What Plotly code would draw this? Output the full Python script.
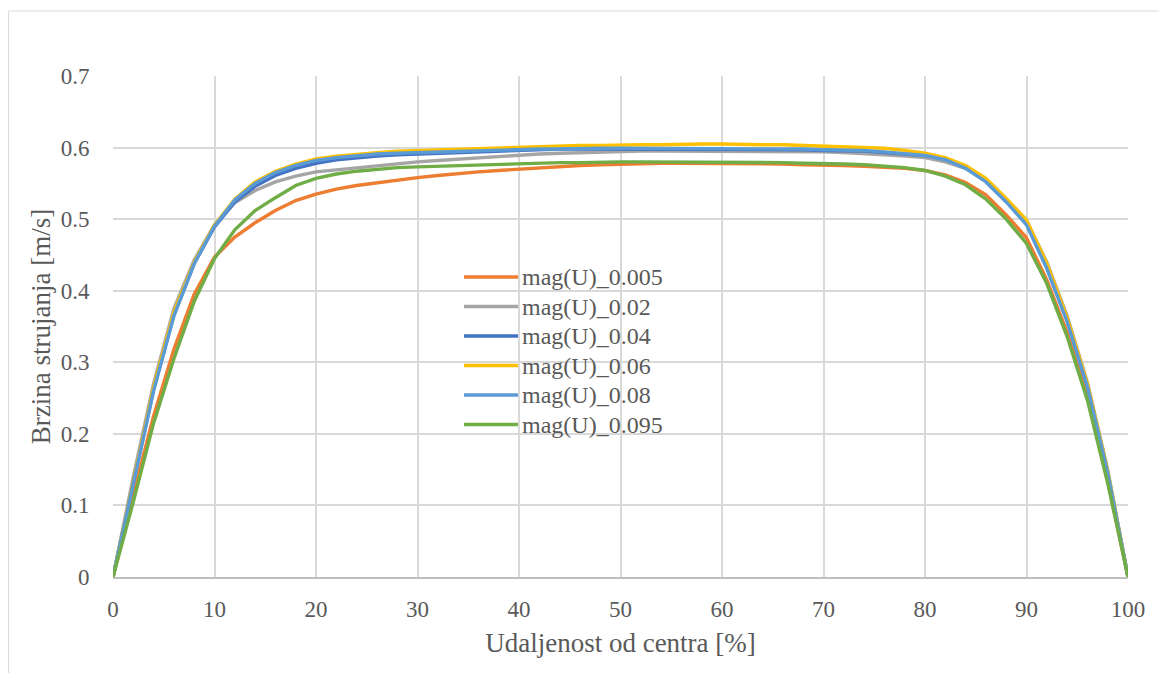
import plotly.graph_objects as go

x_pct = list(range(0, 101, 2))

series_names = ["mag(U)_0.005", "mag(U)_0.02", "mag(U)_0.04", "mag(U)_0.06", "mag(U)_0.08", "mag(U)_0.095"]
series_colors = ["#ED7D31", "#A5A5A5", "#4472C4", "#FFC000", "#5B9BD5", "#70AD47"]

u_0005 = [0, 0.115, 0.225, 0.318, 0.395, 0.447, 0.475, 0.495, 0.512, 0.526, 0.535,
          0.542, 0.547, 0.551, 0.555, 0.558, 0.561, 0.564, 0.566, 0.568, 0.570,
          0.572, 0.574, 0.575, 0.576, 0.577, 0.578, 0.578, 0.578, 0.578, 0.578,
          0.578, 0.577, 0.577, 0.576, 0.576, 0.575, 0.574, 0.573, 0.571, 0.568,
          0.562, 0.551, 0.534, 0.506, 0.474, 0.415, 0.342, 0.252, 0.135, 0]
u_002 = [0, 0.140, 0.270, 0.375, 0.443, 0.492, 0.523, 0.540, 0.552, 0.560, 0.566,
         0.569, 0.572, 0.575, 0.578, 0.580, 0.582, 0.584, 0.586, 0.588, 0.590,
         0.591, 0.592, 0.593, 0.594, 0.594, 0.595, 0.595, 0.595, 0.595, 0.595,
         0.595, 0.595, 0.594, 0.594, 0.594, 0.593, 0.592, 0.590, 0.588, 0.586,
         0.580, 0.571, 0.554, 0.528, 0.498, 0.440, 0.365, 0.272, 0.150, 0]
u_004 = [0, 0.132, 0.262, 0.366, 0.438, 0.489, 0.524, 0.546, 0.561, 0.571, 0.578,
         0.583, 0.586, 0.588, 0.590, 0.591, 0.593, 0.594, 0.595, 0.596, 0.597,
         0.597, 0.598, 0.598, 0.598, 0.598, 0.598, 0.598, 0.598, 0.598, 0.598,
         0.598, 0.597, 0.597, 0.597, 0.596, 0.596, 0.595, 0.593, 0.591, 0.589,
         0.584, 0.573, 0.555, 0.527, 0.494, 0.433, 0.358, 0.267, 0.146, 0]
u_006 = [0, 0.135, 0.265, 0.370, 0.440, 0.492, 0.528, 0.552, 0.567, 0.577, 0.584,
         0.588, 0.591, 0.593, 0.595, 0.596, 0.597, 0.598, 0.599, 0.600, 0.601,
         0.602, 0.602, 0.603, 0.603, 0.604, 0.604, 0.604, 0.605, 0.605, 0.605,
         0.604, 0.604, 0.604, 0.603, 0.603, 0.602, 0.601, 0.599, 0.596, 0.592,
         0.586, 0.575, 0.557, 0.529, 0.499, 0.438, 0.362, 0.270, 0.148, 0]
u_008 = [0, 0.130, 0.260, 0.365, 0.438, 0.490, 0.527, 0.550, 0.565, 0.575, 0.582,
         0.586, 0.589, 0.591, 0.592, 0.593, 0.594, 0.595, 0.596, 0.597, 0.597,
         0.598, 0.598, 0.599, 0.599, 0.599, 0.599, 0.599, 0.599, 0.599, 0.599,
         0.599, 0.598, 0.598, 0.598, 0.597, 0.597, 0.596, 0.594, 0.592, 0.589,
         0.583, 0.571, 0.552, 0.524, 0.492, 0.431, 0.357, 0.266, 0.145, 0]
u_0095 = [0, 0.105, 0.215, 0.305, 0.385, 0.445, 0.485, 0.512, 0.530, 0.547, 0.557,
          0.563, 0.567, 0.570, 0.572, 0.573, 0.574, 0.575, 0.576, 0.577, 0.578,
          0.579, 0.579, 0.579, 0.580, 0.580, 0.580, 0.580, 0.580, 0.580, 0.580,
          0.580, 0.579, 0.579, 0.578, 0.578, 0.577, 0.576, 0.574, 0.572, 0.568,
          0.560, 0.548, 0.528, 0.500, 0.466, 0.410, 0.336, 0.247, 0.131, 0]

series_values = [u_0005, u_002, u_004, u_006, u_008, u_0095]

x_ticks = list(range(0, 101, 10))
y_ticks = [0, 0.1, 0.2, 0.3, 0.4, 0.5, 0.6, 0.7]
y_tick_labels = ["0", "0.1", "0.2", "0.3", "0.4", "0.5", "0.6", "0.7"]

FONT = "Liberation Serif, Times New Roman, serif"
TXT = "#595959"
GRID = "#D9D9D9"

fig = go.Figure()
for name, color, vals in zip(series_names, series_colors, series_values):
    fig.add_trace(go.Scatter(x=x_pct, y=vals, mode="lines", name=name,
                             line=dict(color=color, width=3.4), showlegend=False))

# page has an 8px body margin; figure coordinates below are relative to the div
OFF = 8
W, H = 1167 - OFF, 673 - OFF
L, R, T, B = 113 - OFF, 1128 - OFF, 76 - OFF, 577 - OFF
pw, ph = R - L, B - T


def px_x(px):
    return (px - OFF - L) / pw


def px_y(py):
    return (B - (py - OFF)) / ph


fig.update_layout(
    width=W, height=H,
    margin=dict(l=L, r=W - R, t=T, b=H - B, pad=0),
    paper_bgcolor="white", plot_bgcolor="white",
    font=dict(family=FONT, color=TXT, size=23),
    showlegend=False,
    xaxis=dict(range=[0, 100], tickvals=x_ticks, showgrid=True, gridcolor=GRID, gridwidth=1.5,
               zeroline=False, showline=True, linecolor="#BFBFBF", linewidth=1.5,
               ticks="outside", ticklen=11, tickcolor="rgba(0,0,0,0)",
               tickfont=dict(size=23, color=TXT, family=FONT),
               title=dict(text="Udaljenost od centra [%]", font=dict(size=27, color=TXT, family=FONT),
                          standoff=12)),
    yaxis=dict(range=[0, 0.7], tickvals=y_ticks, ticktext=y_tick_labels, showgrid=True,
               gridcolor=GRID, gridwidth=1.5, zeroline=False, showline=False,
               ticks="outside", ticklen=18, tickcolor="rgba(0,0,0,0)",
               tickfont=dict(size=23, color=TXT, family=FONT),
               title=dict(text="Brzina strujanja [m/s]", font=dict(size=27, color=TXT, family=FONT),
                          standoff=2)),
)

# legend drawn as line samples + text, placed inside the plot area
legend_rows_px = [277, 306.5, 336, 365.5, 395, 424.5]
for name, color, ypx in zip(series_names, series_colors, legend_rows_px):
    fig.add_shape(type="line", xref="paper", yref="paper",
                  x0=px_x(464), x1=px_x(518), y0=px_y(ypx), y1=px_y(ypx),
                  line=dict(color=color, width=3.4))
    fig.add_annotation(xref="paper", yref="paper", x=px_x(520), y=px_y(ypx),
                       xanchor="left", yanchor="middle", text=name, showarrow=False,
                       font=dict(size=24, color=TXT, family=FONT))

# chart-area border (extends beyond the picture at right and bottom)
fig.add_shape(type="rect", xref="paper", yref="paper",
              x0=px_x(8.5), x1=px_x(1200),
              y0=px_y(720), y1=px_y(11),
              line=dict(color="#D9D9D9", width=1), fillcolor="rgba(0,0,0,0)", layer="below")

fig.write_html("out.html")
